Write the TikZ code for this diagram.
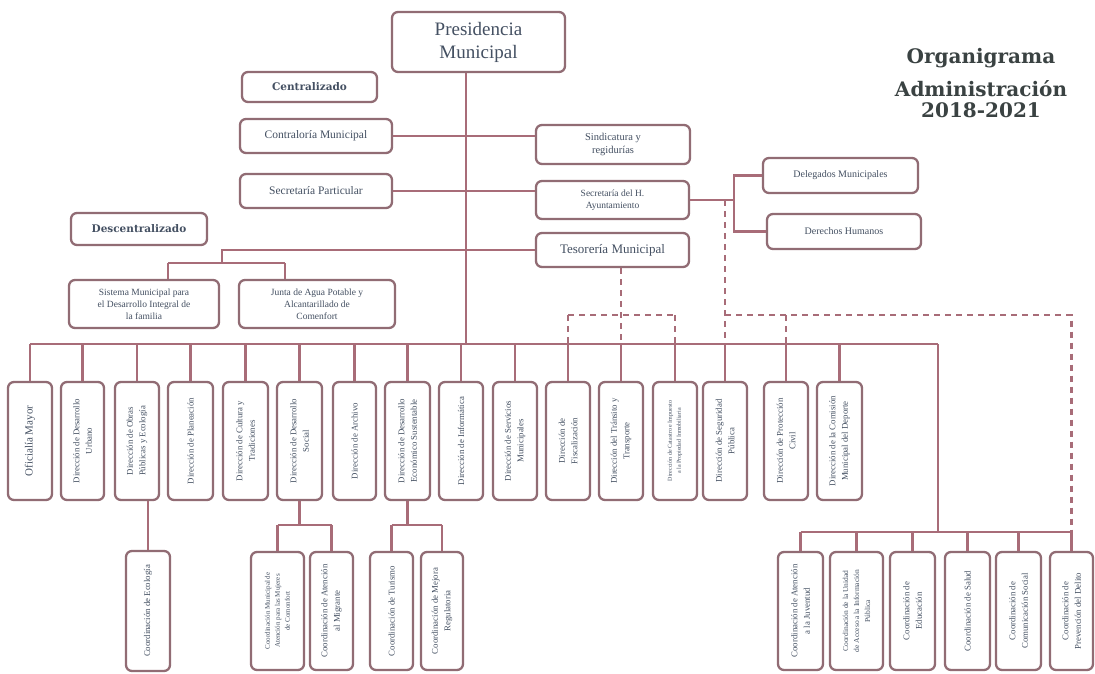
\documentclass[tikz,border=0pt]{standalone}
\usepackage{fontspec}
\setmainfont{Liberation Serif}
\newfontfamily\headfont{DejaVu Serif}
\usetikzlibrary{calc}
\definecolor{linec}{RGB}{168,108,120}
\definecolor{boxc}{RGB}{145,108,116}
\definecolor{txtc}{RGB}{68,80,98}
\definecolor{titc}{RGB}{58,66,66}
\newcommand{\fsz}[2]{\fontsize{#1}{#2}\selectfont}
\begin{document}
\begin{tikzpicture}[x=1pt,y=-1pt,
  box/.style={draw=boxc, line width=2.3pt, rounded corners=6pt, fill=white, align=center, text=txtc, inner sep=1pt},
  hbox/.style args={#1/#2}{box, minimum width=#1, minimum height=#2},
  vbox/.style args={#1/#2}{box, rotate=90, minimum width=#2, minimum height=#1, font=\fsz{8.8}{12.5}},
  conn/.style={draw=linec, line width=2.1pt},
  dconn/.style={conn, dash pattern=on 6pt off 5pt},
  ttl/.style={font=\headfont\bfseries\fsz{20}{24}, text=titc, inner sep=0pt}
]
\fill[white] (0,0) rectangle (1095,674);
\useasboundingbox (0,0) rectangle (1095,674);

% title
\node[ttl] (tt1) at (981,58) {Organigrama};
\node[ttl] (tt2) at (981,89) {Administración};
\node[ttl] (tt3) at (981,110) {2018-2021};

% upper boxes
\node[hbox={173pt/60pt}, font=\fsz{19}{23}] (pres) at (478.5,42) {Presidencia\\Municipal};
\node[hbox={135pt/30pt}, font=\headfont\bfseries\fsz{10.5}{12}] (central) at (309.5,87) {Centralizado};
\node[hbox={152pt/34pt}, font=\fsz{11.5}{14}] (contra) at (316,136) {Contraloría Municipal};
\node[hbox={154pt/39pt}, font=\fsz{10.5}{13}] (sind) at (613,144.5) {Sindicatura y\\regidurías};
\node[hbox={152pt/34pt}, font=\fsz{11.5}{14}] (secp) at (316,191) {Secretaría Particular};
\node[hbox={153pt/38pt}, font=\fsz{9.5}{12}] (sech) at (612.5,200) {Secretaría del H.\\Ayuntamiento};
\node[hbox={136pt/32pt}, font=\headfont\bfseries\fsz{10.5}{12}] (desc) at (139,229) {Descentralizado};
\node[hbox={153pt/34pt}, font=\fsz{13}{15}] (teso) at (612.5,250) {Tesorería Municipal};
\node[hbox={155pt/35pt}, font=\fsz{10}{12}] (deleg) at (840.5,175.5) {Delegados Municipales};
\node[hbox={154pt/35pt}, font=\fsz{10}{12}] (derech) at (844,231.5) {Derechos Humanos};
\node[hbox={150pt/48pt}, font=\fsz{9.5}{12}] (sist) at (144,304) {Sistema Municipal para\\el Desarrollo Integral de\\la familia};
\node[hbox={156pt/48pt}, font=\fsz{9.5}{12}] (junta) at (317,304) {Junta de Agua Potable y\\Alcantarillado de\\Comenfort};

% row of direcciones
\node[vbox={44pt/118pt}, font=\fsz{11}{13}] (n1) at (30,441) {Oficialía Mayor};
\node[vbox={43pt/118pt}] (n2) at (82.5,441) {Dirección de Desarrollo\\Urbano};
\node[vbox={44pt/118pt}] (n3) at (137,441) {Dirección de Obras\\Públicas y Ecología};
\node[vbox={45pt/118pt}] (n4) at (190.5,441) {Dirección de Planeación};
\node[vbox={45pt/118pt}] (n5) at (245.5,441) {Dirección de Cultura y\\Tradiciones};
\node[vbox={45pt/118pt}] (n6) at (299.5,441) {Dirección de Desarrollo\\Social};
\node[vbox={43pt/118pt}] (n7) at (354.5,441) {Dirección de Archivo};
\node[vbox={45pt/118pt}] (n8) at (407.5,441) {Dirección de Desarrollo\\Económico Sustentable};
\node[vbox={44pt/118pt}] (n9) at (461,441) {Dirección de Informática};
\node[vbox={44pt/118pt}] (n10) at (515,441) {Dirección de Servicios\\Municipales};
\node[vbox={44pt/118pt}] (n11) at (568,441) {Dirección de\\Fiscalización};
\node[vbox={44pt/118pt}] (n12) at (621,441) {Dirección del Tránsito y\\Transporte};
\node[vbox={44pt/118pt}, font=\fsz{6}{9}] (n13) at (675,441) {Dirección de Catastro e Impuesto\\a la Propiedad Inmobiliaria};
\node[vbox={44pt/118pt}] (n14) at (725,441) {Dirección de Seguridad\\Pública};
\node[vbox={44pt/118pt}] (n15) at (786,441) {Dirección de Protección\\Civil};
\node[vbox={45pt/118pt}] (n16) at (839.5,441) {Dirección de la Comisión\\Municipal del Deporte};

% coordinaciones (left)
\node[vbox={44pt/120pt}] (eco) at (148,611) {Coordinación de Ecología};
\node[vbox={53pt/118pt}, font=\fsz{7}{10}] (m1) at (277.5,611) {Coordinación Municipal de\\Atención para las Mujeres\\de Comonfort};
\node[vbox={43pt/118pt}] (m2) at (331.5,611) {Coordinación de Atención\\al Migrante};
\node[vbox={43pt/118pt}] (t1) at (391.5,611) {Coordinación de Turismo};
\node[vbox={42pt/118pt}] (t2) at (442,611) {Coordinación de Mejora\\Regulatoria};

% coordinaciones (right)
\node[vbox={45pt/118pt}] (c1) at (800.5,611) {Coordinación de Atención\\a la Juventud};
\node[vbox={53pt/118pt}, font=\fsz{7.5}{11}] (c2) at (856.5,611) {Coordinación de la Unidad\\de Acceso a la Información\\Pública};
\node[vbox={45pt/118pt}] (c3) at (912.5,611) {Coordinación de\\Educación};
\node[vbox={45pt/118pt}] (c4) at (967.5,611) {Coordinación de Salud};
\node[vbox={45pt/118pt}] (c5) at (1018.5,611) {Coordinación de\\Comunicación Social};
\node[vbox={43pt/118pt}] (c6) at (1071.5,611) {Coordinación de\\Prevención del Delito};

% coordinates
\coordinate (mx) at (466,344);
\coordinate (busR) at (938,344);
\coordinate (tj) at (222,250);
\coordinate (dl) at (168,263);
\coordinate (dr) at (285,263);
\coordinate (dj2) at (734,200);
\coordinate (dy) at (0,315);
\coordinate (bj) at (938,532);
\coordinate (sj) at (0,525);

% main connectors
\draw[conn] (pres.south -| mx) -- (mx);
\draw[conn] (contra.east) -- (sind.west |- contra.east);
\draw[conn] (secp.east) -- (sech.west |- secp.east);
\draw[conn] (teso.west) -- (teso.west -| tj) -- (tj |- dl);
\draw[conn] (dl) -- (dr);
\draw[conn] (dl) -- (dl |- sist.north);
\draw[conn] (dr) -- (dr |- junta.north);
\draw[conn] (sech.east) -- (dj2);
\draw[conn] (deleg.west) -- (deleg.west -| dj2) -- (derech.west -| dj2) -- (derech.west);

% bus
\draw[conn] (n1.east |- mx) -- (busR);
\foreach \i in {1,...,16} \draw[conn] (n\i.east) -- (n\i.east |- mx);

% bottom right group
\draw[conn] (busR) -- (bj);
\draw[conn] (c1.east |- bj) -- (c6.east |- bj);
\foreach \i in {1,...,6} \draw[conn] (c\i.east) -- (c\i.east |- bj);

% bottom left groups
\draw[conn] (n3.west -| eco.east) -- (eco.east);
\draw[conn] (n6.west) -- (n6.west |- sj);
\draw[conn] (m1.east |- sj) -- (m2.east |- sj);
\draw[conn] (m1.east |- sj) -- (m1.east);
\draw[conn] (m2.east |- sj) -- (m2.east);
\draw[conn] (n8.west) -- (n8.west |- sj);
\draw[conn] (t1.east |- sj) -- (t2.east |- sj);
\draw[conn] (t1.east |- sj) -- (t1.east);
\draw[conn] (t2.east |- sj) -- (t2.east);

% dashed lines
\draw[dconn] (teso.south -| n12.east) -- (n12.east |- mx);
\draw[dconn] (n11.east |- dy) -- (n13.east |- dy);
\draw[dconn] (n11.east |- dy) -- (n11.east |- mx);
\draw[dconn] (n13.east |- dy) -- (n13.east |- mx);
\draw[dconn] (sech.east -| n14.east) -- (n14.east |- mx);
\draw[dconn] (n14.east |- dy) -- (c6.east |- dy) -- (c6.east |- bj);
\draw[dconn] (n15.east |- dy) -- (n15.east |- mx);
\end{tikzpicture}
\end{document}
